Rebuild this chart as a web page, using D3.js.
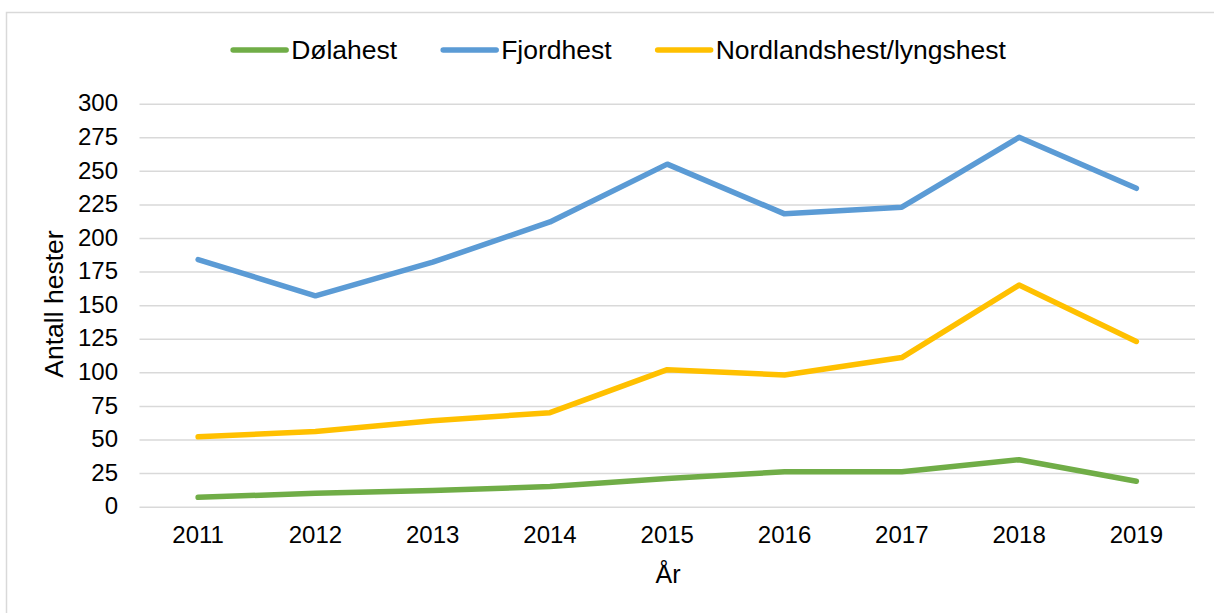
<!DOCTYPE html>
<html>
<head>
<meta charset="utf-8">
<script src="https://cdn.jsdelivr.net/npm/d3@7"></script>
<style>
  body { margin: 0; background: #fff; }
  text { font-family: "Liberation Sans", Arial, sans-serif; fill: #000; }
</style>
</head>
<body>
<div id="chart"></div>
<script>
// data
var years = ["2011", "2012", "2013", "2014", "2015", "2016", "2017", "2018", "2019"];
var dolahest = [7, 10, 12, 15, 21, 26, 26, 35, 19];
var fjordhest = [184, 157, 182, 212, 255, 218, 223, 275, 237];
var nordland = [52, 56, 64, 70, 102, 98, 111, 165, 123];
var seriesNames = ["Dølahest", "Fjordhest", "Nordlandshest/lyngshest"];
var yTicks = [0, 25, 50, 75, 100, 125, 150, 175, 200, 225, 250, 275, 300];

var colors = ["#70ad47", "#5b9bd5", "#ffc000"];
var series = [dolahest, fjordhest, nordland];

var W = 1214, H = 613;
var plotLeft = 139.5, plotRight = 1195, plotTop = 103.7, plotBottom = 506.7;

var svg = d3.select("#chart").append("svg")
    .attr("width", W)
    .attr("height", H);

// outer frame
svg.append("rect")
    .attr("x", 6.5).attr("y", 12.5)
    .attr("width", W).attr("height", H)
    .attr("fill", "none")
    .attr("stroke", "#d9d9d9")
    .attr("stroke-width", 1.5);

var x = d3.scaleBand().domain(years).range([plotLeft, plotRight]);
var y = d3.scaleLinear().domain([0, 300]).range([plotBottom, plotTop]);

// y axis + gridlines
var yAxis = svg.append("g")
    .attr("transform", "translate(" + plotLeft + ",0)")
    .call(d3.axisLeft(y).tickValues(yTicks).tickSize(-(plotRight - plotLeft)).tickPadding(21.5));
yAxis.select(".domain").remove();
yAxis.selectAll("line").attr("stroke", "#d9d9d9").attr("stroke-width", 1.5);
yAxis.selectAll("text").style("font-size", "24px").attr("dy", "0.3em");

// x axis
var xAxis = svg.append("g")
    .attr("transform", "translate(0," + plotBottom + ")")
    .call(d3.axisBottom(x).tickSize(0).tickPadding(19.5));
xAxis.select(".domain").remove();
xAxis.selectAll("text").style("font-size", "24px");

// lines
var line = d3.line()
    .x(function(d, i) { return x(years[i]) + x.bandwidth() / 2; })
    .y(function(d) { return y(d); });

series.forEach(function(s, k) {
  svg.append("path")
      .datum(s)
      .attr("d", line)
      .attr("fill", "none")
      .attr("stroke", colors[k])
      .attr("stroke-width", 5.5)
      .attr("stroke-linejoin", "round")
      .attr("stroke-linecap", "round");
});

// axis titles
svg.append("text")
    .attr("x", 668).attr("y", 583)
    .attr("text-anchor", "middle")
    .style("font-size", "25px")
    .text("År");

svg.append("text")
    .attr("transform", "translate(63,304) rotate(-90)")
    .attr("text-anchor", "middle")
    .style("font-size", "26.5px")
    .text("Antall hester");

// legend
var legend = svg.append("g");
var lx = 0;
seriesNames.forEach(function(name, k) {
  var g = legend.append("g").attr("transform", "translate(" + lx + ",0)");
  g.append("line")
      .attr("x1", 2).attr("x2", 55)
      .attr("y1", 50).attr("y2", 50)
      .attr("stroke", colors[k])
      .attr("stroke-width", 5.5)
      .attr("stroke-linecap", "round");
  var t = g.append("text")
      .attr("x", 60).attr("y", 58.5)
      .style("font-size", "26.5px")
      .text(name);
  lx += 60 + t.node().getComputedTextLength() + 44;
});
var legendW = lx - 44;
legend.attr("transform", "translate(" + (618.5 - legendW / 2) + ",0)");
</script>
</body>
</html>
